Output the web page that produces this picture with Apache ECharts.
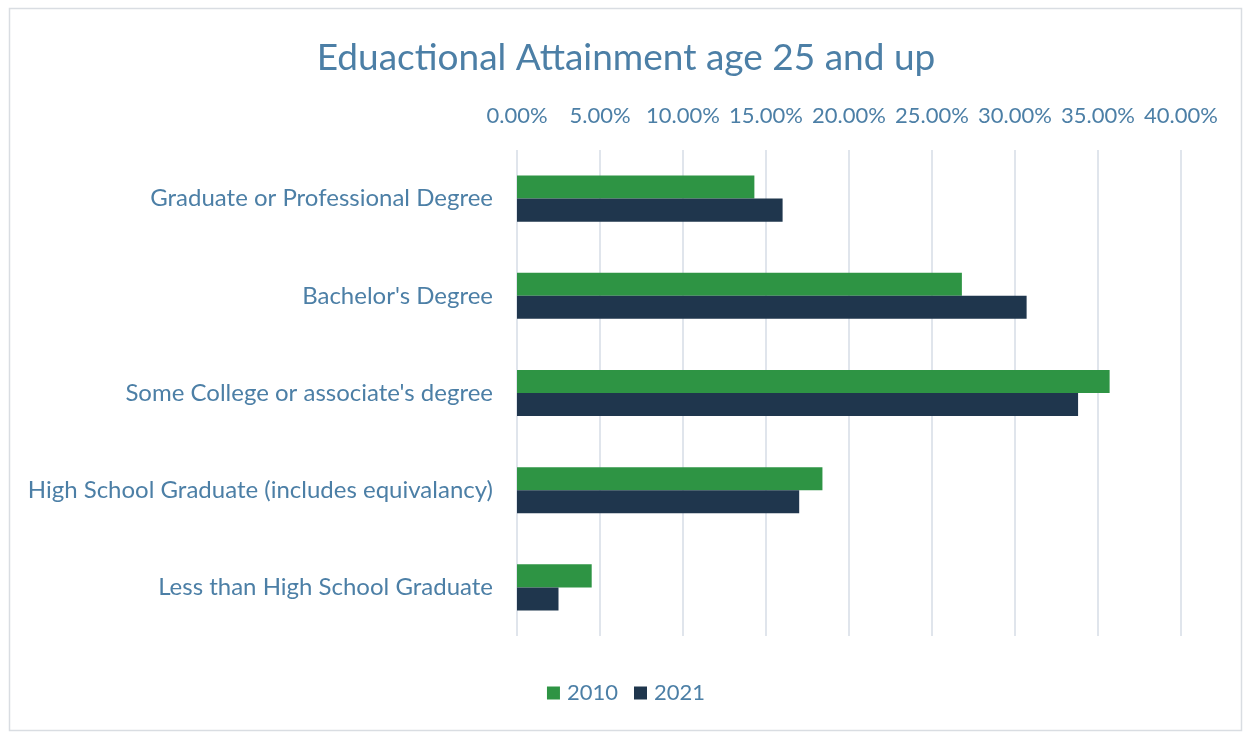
<!DOCTYPE html>
<html>
<head>
<meta charset="utf-8">
<script src="https://cdn.jsdelivr.net/npm/echarts@6/dist/echarts.min.js"></script>
<style>
  html, body { margin: 0; padding: 0; background: #ffffff; }
  #chart { width: 1252px; height: 732px; }
</style>
</head>
<body>
<div id="chart"></div>
<script>
// Educational attainment shares (percent), top to bottom
const categories = [
  'Graduate or Professional Degree',
  "Bachelor's Degree",
  "Some College or associate's degree",
  'High School Graduate (includes equivalancy)',
  'Less than High School Graduate'
];
const values2010 = [14.3, 26.8, 35.7, 18.4, 4.5];
const values2021 = [16.0, 30.7, 33.8, 17.0, 2.5];
const seriesNames = ['2010', '2021'];

const textColor = '#4c7fa6';
const font = 'Lato';

const chart = echarts.init(document.getElementById('chart'));
chart.setOption({
  backgroundColor: '#ffffff',
  animation: false,
  title: {
    text: 'Eduactional Attainment age 25 and up',
    left: 'center',
    top: 35,
    textStyle: { color: textColor, fontFamily: font, fontSize: 37, fontWeight: 'normal' }
  },
  graphic: [{
    type: 'rect',
    shape: { x: 9.5, y: 8.5, width: 1232, height: 722 },
    style: { fill: 'none', stroke: '#d9dde2', lineWidth: 1.5 },
    silent: true
  }],
  legend: {
    data: seriesNames,
    bottom: 23,
    left: 'center',
    itemWidth: 13,
    itemHeight: 13,
    itemGap: 16,
    icon: 'rect',
    textStyle: { color: textColor, fontFamily: font, fontSize: 22, padding: [0, 0, 0, 2] }
  },
  grid: { left: 517, right: 71, top: 150, bottom: 96, containLabel: false },
  xAxis: {
    type: 'value',
    position: 'top',
    min: 0,
    max: 40,
    interval: 5,
    axisLine: { show: false },
    axisTick: { show: false },
    axisLabel: {
      color: textColor, fontFamily: font, fontSize: 22, margin: 23,
      formatter: v => v.toFixed(2) + '%'
    },
    splitLine: { lineStyle: { color: '#d6dde6', width: 1.5 } }
  },
  yAxis: {
    type: 'category',
    data: categories,
    inverse: true,
    axisLine: { show: false },
    axisTick: { show: false },
    axisLabel: { color: textColor, fontFamily: font, fontSize: 24, margin: 24 }
  },
  series: [
    {
      name: seriesNames[0], type: 'bar', data: values2010,
      itemStyle: { color: '#2e9444' },
      barGap: '0%', barCategoryGap: '52.6%'
    },
    {
      name: seriesNames[1], type: 'bar', data: values2021,
      itemStyle: { color: '#1f364d' },
      barGap: '0%', barCategoryGap: '52.6%'
    }
  ]
});
</script>
</body>
</html>
